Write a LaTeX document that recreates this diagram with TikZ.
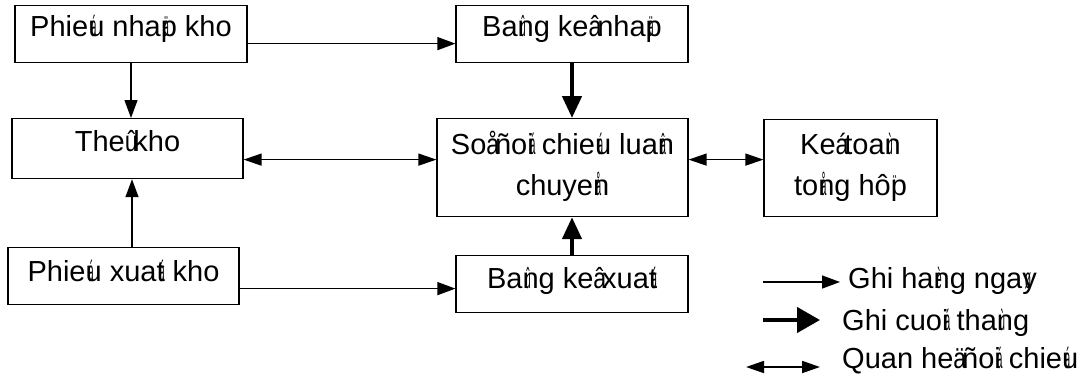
\documentclass[tikz,border=0pt]{standalone}
\usepackage{fontspec}
\usepackage{graphicx}
\setmainfont{Liberation Sans}
\usetikzlibrary{arrows.meta}
% dau thanh chong len chu sau no
\newcommand{\ovr}[1]{\rlap{\hspace{2.5pt}\scalebox{0.35}[1]{#1}}}
% dau thanh thay cho khoang trang
\newcommand{\ovs}[1]{\makebox[0.3em][l]{\scalebox{0.8}[1]{#1}}}

\begin{document}
\begin{tikzpicture}[x=1pt,y=-1pt,
	box/.style={draw, line width=1.2pt, inner sep=0pt, anchor=north, align=center, font=\fontsize{29}{41}\selectfont},
	hangngay/.style={line width=1.3pt, -{Triangle[length=18pt,width=13pt]}},
	cuoithang/.style={line width=4.5pt, -{Triangle[length=22pt,width=19pt]}},
	doichieu/.style={line width=1.3pt, {Triangle[length=18pt,width=12pt]}-{Triangle[length=18pt,width=12pt]}},
	legend/.style={anchor=base west, inner sep=0pt, font=\fontsize{29}{35}\selectfont}]
	\useasboundingbox (0,0) rectangle (1083,381);
	\node[box, minimum width=232pt, text height=31pt, text depth=26pt] (pnk) at (131,5) {Phie\ovr{á}u nha\ovr{ä}p kho};
	\node[box, minimum width=232pt, text height=31pt, text depth=26pt] (bkn) at (572,5) {Ba\ovr{û}ng ke\ovs{â}nha\ovr{ä}p};
	\node[box, minimum width=231pt, text height=33pt, text depth=27pt] (tk) at (127.5,118) {The\ovs{û}kho};
	\node[box, minimum width=251pt, text height=77pt, text depth=21pt] (so) at (562.5,118) {So\ovs{å}ño\ovr{á}i chie\ovr{á}u lua\ovr{â}n\\chuye\ovr{å}n};
	\node[box, minimum width=173pt, text height=76pt, text depth=21pt] (kt) at (850.5,119) {Ke\ovs{á}toa\ovr{ù}n\\to\ovr{å}ng hô\ovr{ï}p};
	\node[box, minimum width=231pt, text height=34pt, text depth=23pt] (pxk) at (123.5,247) {Phie\ovr{á}u xua\ovr{á}t kho};
	\node[box, minimum width=232pt, text height=33pt, text depth=24pt] (bkx) at (572,255) {Ba\ovr{û}ng ke\ovs{â}xua\ovr{á}t};
	% luong ghi
	\draw[hangngay] ([yshift=-9.5pt]pnk.east) -- ([yshift=-9.5pt]pnk.east -| bkn.west);
	\draw[hangngay] (pnk.south) -- (pnk.south |- tk.north);
	\draw[cuoithang] (bkn.south) -- (bkn.south |- so.north);
	\draw[doichieu] ([yshift=-11pt]tk.east) -- ([yshift=-11pt]tk.east -| so.west);
	\draw[doichieu] ([yshift=8pt]so.east) -- ([yshift=8pt]so.east -| kt.west);
	\draw[hangngay] ([xshift=8.5pt]pxk.north) -- ([xshift=8.5pt]pxk.north |- tk.south);
	\draw[hangngay] ([yshift=-12.5pt]pxk.east) -- ([yshift=-12.5pt]pxk.east -| bkx.west);
	\draw[cuoithang] (bkx.north) -- (bkx.north |- so.south);
	% chu thich
	\node[legend] (lg1) at (848,288) {Ghi ha\ovr{è}ng nga\ovr{ø}y};
	\node[legend] (lg2) at (842,330) {Ghi cuo\ovr{á}i tha\ovr{ù}ng};
	\node[legend] (lg3) at (842,368) {Quan he\ovs{ä}ño\ovr{á}i chie\ovr{á}u};
	\coordinate (l1a) at (763,282);
	\coordinate (l1b) at (840,282);
	\coordinate (l2a) at (763,320);
	\coordinate (l2b) at (820,320);
	\coordinate (l3a) at (746,367);
	\coordinate (l3b) at (820,367);
	\draw[hangngay] (l1a) -- (l1b);
	\draw[cuoithang, -{Triangle[length=23pt,width=25pt]}] (l2a) -- (l2b);
	\draw[doichieu, line width=1.8pt] (l3a) -- (l3b);
\end{tikzpicture}
\end{document}
